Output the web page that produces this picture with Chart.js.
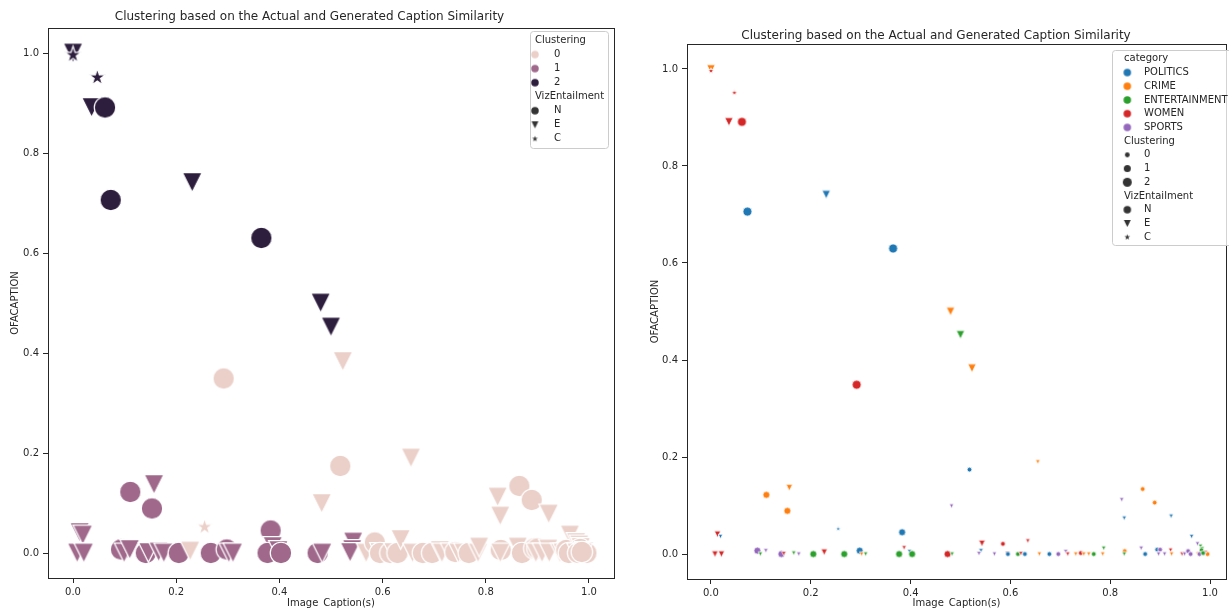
<!DOCTYPE html>
<html lang="en">
<head>
  <meta charset="UTF-8">
  <title>Clustering based on the Actual and Generated Caption Similarity</title>
  <script src="https://cdn.jsdelivr.net/npm/chart.js"></script>
  <style>
    html, body { margin: 0; padding: 0; background: #fff; }
    body { width: 1229px; height: 608px; position: relative; overflow: hidden; }
    #leftWrap { position: absolute; left: 0; top: 0; width: 620px; height: 608px; }
    #rightWrap { position: absolute; left: 620px; top: 0; width: 609px; height: 608px; }
  </style>
</head>
<body>

<div id="leftWrap"><canvas id="leftChart" width="620" height="608"></canvas></div>
<div id="rightWrap"><canvas id="rightChart" width="609" height="608"></canvas></div>

<script>
  // values, one entry per caption
  const xValues = [
    0.000, 0.000, 0.047, 0.036, 0.062, 0.073, 0.231, 0.365, 0.480, 0.500,
    0.292, 0.523, 0.518, 0.655, 0.482, 0.865, 0.889, 0.823, 0.828, 0.922, 0.963,
    0.013, 0.019, 0.008, 0.021, 0.093, 0.099, 0.110, 0.111, 0.153, 0.157, 0.141, 0.146, 0.166, 0.176, 0.205,
    0.227, 0.255, 0.267, 0.298, 0.302, 0.310, 0.383, 0.387, 0.377, 0.398, 0.403, 0.474, 0.483, 0.543, 0.541, 0.537,
    0.568, 0.585, 0.594, 0.595, 0.615, 0.621, 0.629, 0.635, 0.658, 0.678, 0.696, 0.711, 0.715, 0.731, 0.741,
    0.747, 0.757, 0.767, 0.785, 0.787, 0.829, 0.828, 0.862, 0.870, 0.894, 0.900, 0.897, 0.909, 0.921, 0.923,
    0.944, 0.949, 0.956, 0.961, 0.975, 0.981, 0.984, 0.983, 0.976, 0.979, 0.991, 0.995, 0.988, 0.986
  ];
  const yValues = [
    1.000, 0.996, 0.951, 0.891, 0.891, 0.706, 0.741, 0.630, 0.500, 0.452,
    0.349, 0.383, 0.174, 0.190, 0.099, 0.134, 0.106, 0.112, 0.074, 0.078, 0.036,
    0.041, 0.036, 0.000, 0.000, 0.007, 0.000, 0.007, 0.122, 0.089, 0.137, 0.000, 0.001, 0.002, 0.000, 0.000,
    0.004, 0.052, 0.000, 0.007, 0.000, 0.000, 0.045, 0.013, 0.000, 0.005, 0.000, 0.000, 0.000, 0.022, 0.007, 0.001,
    0.000, 0.021, 0.001, 0.000, 0.000, 0.001, 0.000, 0.027, 0.000, 0.000, 0.000, 0.005, 0.000, 0.000, 0.002,
    0.000, 0.000, 0.000, 0.000, 0.012, 0.006, 0.000, 0.012, 0.000, 0.009, 0.009, 0.000, 0.000, 0.008, 0.000,
    0.000, 0.000, 0.006, 0.000, 0.021, 0.016, 0.011, 0.008, 0.000, 0.000, 0.003, 0.000, 0.000, 0.002
  ];
  const vizEntailment = [
    'E', 'C', 'C', 'E', 'N', 'N', 'E', 'N', 'E', 'E',
    'N', 'E', 'N', 'E', 'E', 'N', 'N', 'E', 'E', 'E', 'E',
    'E', 'E', 'E', 'E', 'N', 'E', 'E', 'N', 'N', 'E', 'N', 'E', 'E', 'E', 'N',
    'E', 'C', 'N', 'N', 'E', 'E', 'N', 'E', 'N', 'E', 'N', 'N', 'E', 'E', 'E', 'E',
    'E', 'N', 'E', 'N', 'N', 'E', 'N', 'E', 'E', 'N', 'N', 'E', 'E', 'E', 'N',
    'E', 'E', 'N', 'E', 'E', 'N', 'E', 'E', 'N', 'N', 'N', 'E', 'E', 'E', 'E',
    'E', 'E', 'N', 'N', 'E', 'E', 'E', 'N', 'E', 'N', 'E', 'N', 'E', 'N'
  ];
  const categoryOf = [
    'CRIME', 'WOMEN', 'WOMEN', 'WOMEN', 'WOMEN', 'POLITICS', 'POLITICS', 'POLITICS', 'CRIME', 'ENTERTAINMENT',
    'WOMEN', 'CRIME', 'POLITICS', 'CRIME', 'SPORTS', 'CRIME', 'CRIME', 'SPORTS', 'POLITICS', 'POLITICS', 'POLITICS',
    'WOMEN', 'POLITICS', 'WOMEN', 'WOMEN', 'SPORTS', 'ENTERTAINMENT', 'SPORTS', 'CRIME', 'CRIME', 'CRIME', 'SPORTS',
    'WOMEN', 'ENTERTAINMENT', 'SPORTS', 'ENTERTAINMENT',
    'WOMEN', 'POLITICS', 'ENTERTAINMENT', 'POLITICS', 'CRIME', 'ENTERTAINMENT', 'POLITICS', 'WOMEN', 'ENTERTAINMENT',
    'POLITICS', 'ENTERTAINMENT', 'WOMEN', 'ENTERTAINMENT', 'WOMEN', 'POLITICS', 'SPORTS',
    'SPORTS', 'WOMEN', 'WOMEN', 'POLITICS', 'ENTERTAINMENT', 'WOMEN', 'POLITICS', 'WOMEN', 'CRIME', 'POLITICS',
    'SPORTS', 'SPORTS', 'WOMEN', 'CRIME', 'WOMEN',
    'CRIME', 'CRIME', 'ENTERTAINMENT', 'CRIME', 'ENTERTAINMENT', 'CRIME', 'ENTERTAINMENT', 'SPORTS', 'POLITICS',
    'POLITICS', 'SPORTS', 'SPORTS', 'SPORTS', 'WOMEN', 'CRIME',
    'WOMEN', 'SPORTS', 'SPORTS', 'SPORTS', 'SPORTS', 'ENTERTAINMENT', 'ENTERTAINMENT', 'ENTERTAINMENT', 'CRIME',
    'SPORTS', 'WOMEN', 'CRIME', 'SPORTS', 'ENTERTAINMENT'
  ];
  // hue in the left panel
  const clustering = [
    2, 2, 2, 2, 2, 2, 2, 2, 2, 2,
    0, 0, 0, 0, 0, 0, 0, 0, 0, 0, 0,
    1, 1, 1, 1, 1, 1, 1, 1, 1, 1, 1, 1, 1, 1, 1,
    0, 0, 1, 1, 1, 1, 1, 1, 1, 1, 1, 1, 1, 1, 1, 1,
    0, 0, 0, 0, 0, 0, 0, 0, 0, 0, 0, 0, 0, 0, 0,
    0, 0, 0, 0, 0, 0, 0, 0, 0, 0, 0, 0, 0, 0, 0,
    0, 0, 0, 0, 0, 0, 0, 0, 0, 0, 0, 0, 0, 0
  ];
  // marker size in the right panel
  const clusteringSize = [
    2, 2, 2, 2, 2, 2, 2, 2, 2, 2,
    2, 2, 0, 0, 0, 0, 0, 0, 0, 0, 0,
    1, 0, 1, 1, 1, 0, 0, 1, 1, 1, 1, 0, 0, 0, 1,
    1, 0, 1, 1, 0, 0, 1, 0, 1, 0, 1, 1, 0, 1, 0, 0,
    0, 0, 0, 0, 0, 0, 0, 0, 0, 0, 0, 0, 0, 0, 0,
    0, 0, 0, 0, 0, 0, 0, 0, 0, 0, 0, 0, 0, 0, 0,
    0, 0, 0, 0, 0, 0, 0, 0, 0, 0, 0, 0, 0, 0
  ];

  const categories = ['POLITICS', 'CRIME', 'ENTERTAINMENT', 'WOMEN', 'SPORTS'];
  const clusterLevels = [0, 1, 2];
  const vizLevels = ['N', 'E', 'C'];
  const xTicks = [0.0, 0.2, 0.4, 0.6, 0.8, 1.0];
  const yTicks = [0.0, 0.2, 0.4, 0.6, 0.8, 1.0];

  const chartTitle = 'Clustering based on the Actual and Generated Caption Similarity';
  const xLabel = 'Image_Caption(s)';
  const yLabel = 'OFACAPTION';

  const clusterColors = ['#ebd0c9', '#a0698c', '#2d1e3e'];
  const categoryColors = ['#1f77b4', '#ff7f0e', '#2ca02c', '#d62728', '#9467bd'];
  const legendGray = '#333333';
  const textColor = '#262626';
  const FONT = '"DejaVu Sans", "Liberation Sans", sans-serif';

  // marker shapes like matplotlib: o, v, *
  const shapeScale = { N: 1, E: 0.92, C: 0.82 };
  const markerCache = {};
  function marker(shape, color, size, edge) {
    const key = [shape, color, size, edge].join('|');
    if (markerCache[key]) return markerCache[key];
    const s = size * shapeScale[shape];
    const dim = Math.ceil(s + edge * 2) + 2;
    const c = document.createElement('canvas');
    c.width = dim;
    c.height = dim;
    const g = c.getContext('2d');
    const m = dim / 2, h = s / 2;
    g.beginPath();
    if (shape === 'N') {
      g.arc(m, m, h, 0, Math.PI * 2);
    } else if (shape === 'E') {
      g.moveTo(m - h, m - h);
      g.lineTo(m + h, m - h);
      g.lineTo(m, m + h);
      g.closePath();
    } else {
      for (let k = 0; k < 10; k++) {
        const r = k % 2 ? h * 0.381966 : h;
        const a = -Math.PI / 2 + k * Math.PI / 5;
        g.lineTo(m + r * Math.cos(a), m + r * Math.sin(a));
      }
      g.closePath();
    }
    g.fillStyle = color;
    g.fill();
    if (edge > 0) {
      g.lineWidth = edge;
      g.strokeStyle = '#ffffff';
      g.stroke();
    }
    markerCache[key] = c;
    return c;
  }

  const points = xValues.map((x, i) => ({ x: x, y: yValues[i] }));

  // left: hue = clustering, all big
  const leftStyles = points.map((p, i) => marker(vizEntailment[i], clusterColors[clustering[i]], 21.5, 1.2));
  // right: hue = category, size = clustering (stars stay a bit bigger so they read)
  const sizeClasses = [4.8, 7, 9];
  const starSizes = [6.6, 7.2, 7.8];
  const rightStyles = points.map((p, i) => {
    const v = vizEntailment[i];
    const sz = v === 'C' ? starSizes[clusteringSize[i]] : sizeClasses[clusteringSize[i]];
    return marker(v, categoryColors[categories.indexOf(categoryOf[i])], sz, 0.8);
  });

  // box round the plot area
  const framePlugin = {
    id: 'frame',
    afterDatasetsDraw(chart) {
      const a = chart.chartArea;
      const g = chart.ctx;
      g.save();
      g.strokeStyle = textColor;
      g.lineWidth = 1;
      g.strokeRect(Math.round(a.left) + 0.5, Math.round(a.top) + 0.5,
        Math.round(a.right) - Math.round(a.left), Math.round(a.bottom) - Math.round(a.top));
      g.restore();
    }
  };

  // matplotlib style legend with section headers
  const mplLegend = {
    id: 'mplLegend',
    afterDraw(chart, args, o) {
      if (!o || !o.rows) return;
      const g = chart.ctx;
      g.save();
      const x = o.x + 0.5, y = o.y + 0.5, w = o.w, h = o.h, r = 3;
      g.beginPath();
      g.moveTo(x + r, y);
      g.lineTo(x + w - r, y);
      g.arcTo(x + w, y, x + w, y + r, r);
      g.lineTo(x + w, y + h - r);
      g.arcTo(x + w, y + h, x + w - r, y + h, r);
      g.lineTo(x + r, y + h);
      g.arcTo(x, y + h, x, y + h - r, r);
      g.lineTo(x, y + r);
      g.arcTo(x, y, x + r, y, r);
      g.closePath();
      g.fillStyle = 'rgba(255,255,255,0.8)';
      g.fill();
      g.strokeStyle = '#cccccc';
      g.lineWidth = 1;
      g.stroke();
      g.font = '10px ' + FONT;
      g.fillStyle = textColor;
      g.textBaseline = 'middle';
      o.rows.forEach((row, i) => {
        const ry = o.y + o.first + i * o.step;
        if (row.marker) {
          g.drawImage(row.marker, o.markerX - row.marker.width / 2, ry - row.marker.height / 2);
          g.fillText(row.label, o.textX, ry);
        } else {
          g.fillText(row.label, o.headerX, ry);
        }
      });
      g.restore();
    }
  };

  function makeChart(id, styles, cfg) {
    const tickFont = { family: FONT, size: 10 };
    return new Chart(document.getElementById(id), {
      type: 'scatter',
      data: {
        datasets: [{
          data: points,
          pointStyle: styles,
          pointRadius: 2,
          pointHoverRadius: 2,
          clip: false
        }]
      },
      options: {
        responsive: false,
        animation: false,
        events: [],
        devicePixelRatio: 1,
        layout: { padding: cfg.padding },
        plugins: {
          legend: { display: false },
          tooltip: { enabled: false },
          title: {
            display: true,
            text: chartTitle,
            color: textColor,
            font: { family: FONT, size: 12, weight: 'normal' },
            padding: cfg.titlePadding
          },
          mplLegend: cfg.legend
        },
        scales: {
          x: {
            type: 'linear',
            min: cfg.xMin,
            max: cfg.xMax,
            afterBuildTicks: s => { s.ticks = xTicks.map(v => ({ value: v })); },
            afterFit: s => { s.height = cfg.xHeight; },
            ticks: { color: textColor, font: tickFont, padding: 3, maxRotation: 0,
              callback: v => Number(v).toFixed(1) },
            grid: { display: true, drawOnChartArea: false, drawTicks: true, tickLength: 5, color: textColor },
            border: { display: false },
            title: { display: true, text: xLabel, color: textColor, font: tickFont, padding: { top: 0, bottom: -1 } }
          },
          y: {
            type: 'linear',
            min: cfg.yMin,
            max: cfg.yMax,
            afterBuildTicks: s => { s.ticks = yTicks.map(v => ({ value: v })); },
            afterFit: s => { s.width = cfg.yWidth; },
            ticks: { color: textColor, font: tickFont, padding: 4,
              callback: v => Number(v).toFixed(1) },
            grid: { display: true, drawOnChartArea: false, drawTicks: true, tickLength: 5, color: textColor },
            border: { display: false },
            title: { display: true, text: yLabel, color: textColor, font: tickFont, padding: { top: 4, bottom: 0 } }
          }
        }
      },
      plugins: [framePlugin, mplLegend]
    });
  }

  const leftRows = [{ label: 'Clustering' }]
    .concat(clusterLevels.map(c => ({ label: String(c), marker: marker('N', clusterColors[c], 7.5, 0) })))
    .concat([{ label: 'VizEntailment' }])
    .concat(vizLevels.map(v => ({ label: v, marker: marker(v, legendGray, 7.5, 0) })));

  const rightRows = [{ label: 'category' }]
    .concat(categories.map((c, i) => ({ label: c, marker: marker('N', categoryColors[i], 7.5, 0) })))
    .concat([{ label: 'Clustering' }])
    .concat(clusterLevels.map(c => ({ label: String(c), marker: marker('N', legendGray, sizeClasses[c], 0) })))
    .concat([{ label: 'VizEntailment' }])
    .concat(vizLevels.map(v => ({ label: v, marker: marker(v, legendGray, 7.5, 0) })));

  makeChart('leftChart', leftStyles, {
    padding: { left: 5, right: 6, top: 0, bottom: 0 },
    titlePadding: { top: 10, bottom: 3.6 },
    xMin: -0.0485, xMax: 1.0485, yMin: -0.05, yMax: 1.05,
    xHeight: 30, yWidth: 43,
    legend: { rows: leftRows, x: 530, y: 31, w: 78, h: 117, first: 9.5, step: 14.05,
      markerX: 535, textX: 554, headerX: 535 }
  });

  makeChart('rightChart', rightStyles, {
    padding: { left: 25, right: 2, top: 0, bottom: 0 },
    titlePadding: { top: 28.5, bottom: 1.1 },
    xMin: -0.048, xMax: 1.032, yMin: -0.0515, yMax: 1.0515,
    xHeight: 29, yWidth: 42,
    legend: { rows: rightRows, x: 492, y: 50, w: 130, h: 195, first: 8.8, step: 13.72,
      markerX: 507.3, textX: 524, headerX: 504 }
  });
</script>

</body>
</html>
